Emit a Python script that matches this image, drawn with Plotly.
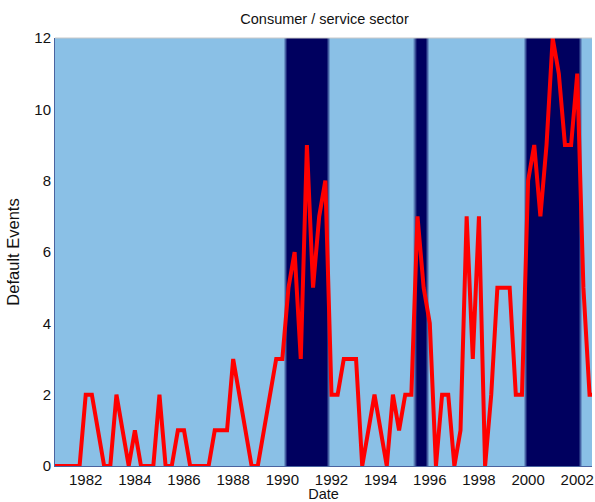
import numpy as np
import plotly.graph_objects as go

# Quarterly dates (decimal years), Q4 1980 through Q4 2002
dates = np.arange(1980.75, 2002.76, 0.25)

# Default events per quarter, consumer / service sector
default_events = [
    0,              # 1980 Q4
    0, 0, 0, 0,     # 1981
    2, 2, 1, 0,     # 1982
    0, 2, 1, 0,     # 1983
    1, 0, 0, 0,     # 1984
    2, 0, 0, 1,     # 1985
    1, 0, 0, 0,     # 1986
    0, 1, 1, 1,     # 1987
    3, 2, 1, 0,     # 1988
    0, 1, 2, 3,     # 1989
    3, 5, 6, 3,     # 1990
    9, 5, 7, 8,     # 1991
    2, 2, 3, 3,     # 1992
    3, 0, 1, 2,     # 1993
    1, 0, 2, 1,     # 1994
    2, 2, 7, 5,     # 1995
    4, 0, 2, 2,     # 1996
    0, 1, 7, 3,     # 1997
    7, 0, 2, 5,     # 1998
    5, 5, 2, 2,     # 1999
    8, 9, 7, 9,     # 2000
    12, 11, 9, 9,   # 2001
    11, 5, 2, 2,    # 2002
]

# Recession periods (first and last quarter, inclusive)
recessions = [(1990.25, 1991.75), (1995.5, 1995.75), (2000.0, 2002.0)]

x_ticks = [1982, 1984, 1986, 1988, 1990, 1992, 1994, 1996, 1998, 2000, 2002]
y_ticks = [0, 2, 4, 6, 8, 10, 12]

LIGHT = "#8AC0E6"
NAVY = "#00005F"
FAMILY = "Liberation Sans, Arial, sans-serif"
TEXT = "#111111"

regime = np.zeros(len(dates))
for start, end in recessions:
    regime[(dates >= start - 1e-9) & (dates <= end + 1e-9)] = 1.0

fig = go.Figure()

# Regime background: light blue in normal quarters, navy in recessions
fig.add_trace(go.Heatmap(
    x=dates,
    y=[0, 12],
    z=[regime, regime],
    zmin=0, zmax=1,
    colorscale=[[0, LIGHT], [0.2, LIGHT], [0.8, NAVY], [1, NAVY]],
    zsmooth="best",
    showscale=False,
    hoverinfo="skip",
))

fig.add_trace(go.Scatter(
    x=dates,
    y=default_events,
    mode="lines",
    line=dict(color="#FF0000", width=4),
    showlegend=False,
))

fig.update_layout(
    width=595,
    height=502,
    margin=dict(l=55, r=1, t=38, b=36),
    paper_bgcolor="white",
    plot_bgcolor=LIGHT,
    font=dict(family=FAMILY, size=14, color=TEXT),
    title=dict(text="Consumer / service sector", x=0.5454, xanchor="center",
               y=0.962, yanchor="middle",
               font=dict(family=FAMILY, size=14.5, color=TEXT)),
    showlegend=False,
    shapes=[dict(type="line", xref="paper", yref="paper", x0=0, x1=1, y0=1, y1=1,
                 line=dict(color="#C8C8C8", width=1), layer="above")],
)

fig.update_xaxes(
    range=[1980.75, 2002.6],
    tickvals=x_ticks,
    ticktext=[str(t) for t in x_ticks],
    tickfont=dict(family=FAMILY, size=15, color=TEXT),
    ticklabeloverflow="allow",
    showgrid=False,
    zeroline=False,
    showline=True,
    linecolor="#4A64A0",
    linewidth=1,
    ticks="",
    title=dict(text="Date", standoff=3,
               font=dict(family=FAMILY, size=14.5, color=TEXT)),
)
fig.update_yaxes(
    range=[0, 12],
    tickvals=y_ticks,
    tickfont=dict(family=FAMILY, size=15, color=TEXT),
    showgrid=False,
    zeroline=False,
    showline=True,
    linecolor="#4A64A0",
    linewidth=1,
    ticks="",
    title=dict(text="Default Events", standoff=10,
               font=dict(family=FAMILY, size=16.5, color=TEXT)),
)

fig.write_html("out.html")
